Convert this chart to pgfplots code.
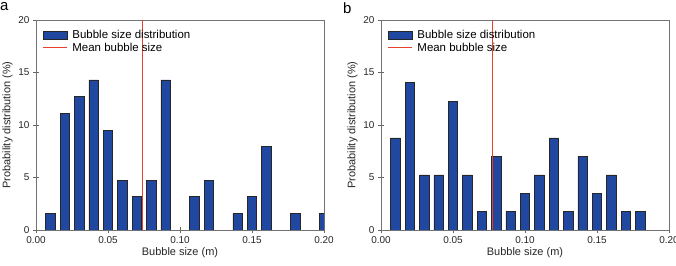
\documentclass[border=0pt]{standalone}
\usepackage{fontspec}
\setmainfont{Liberation Sans}
\usepackage{pgfplots}
\pgfplotsset{compat=1.18}
\definecolor{barblue}{HTML}{2148A0}
\definecolor{meanred}{HTML}{E8402A}
\begin{document}
\begin{tikzpicture}
\path[use as bounding box] (0bp,0bp) rectangle (676bp,266bp);
\pgfplotsset{
  myax/.style={
    scale only axis, width=288bp, height=210bp,
    xmin=0, xmax=0.2, ymin=0, ymax=20,
    xtick={0,0.05,0.1,0.15,0.2},
    xticklabels={0.00,0.05,0.10,0.15,0.20},
    ytick={0,5,10,15,20},
    tick align=center, tick style={black!60, line width=0.5pt}, major tick length=6bp,
    xtick pos=bottom, ytick pos=left,
    axis line style={black!55, line width=0.7pt},
    ticklabel style={font=\fontsize{10}{11}\selectfont, text=black!85},
    label style={font=\fontsize{11}{12}\selectfont, text=black!85},
    xlabel={Bubble size (m)}, ylabel={Probability distribution (\%)},
    xlabel style={yshift=3bp}, ylabel style={yshift=-1bp},
    /pgf/number format/assume math mode=true,
    legend style={draw=none, fill=none, at={(0.02,0.965)}, anchor=north west,
      font=\fontsize{11.5}{12}\selectfont, row sep=0bp, column sep=3bp, inner sep=1bp,
      nodes={inner sep=1.5bp}},
    legend cell align=left,
  },
  barst/.style={ybar, bar width=0.0065, fill=barblue, draw=black!85, line width=0.5pt, bar shift=0pt,
    legend image code/.code={\draw[##1, bar width=0pt] (0bp,-4bp) rectangle (24bp,4bp);}},
  meanst/.style={draw=meanred, color=meanred, line width=1pt, mark=none,
    legend image code/.code={\draw[##1] (0bp,0bp) -- (24bp,0bp);}},
}
\begin{axis}[myax, at={(36bp,36bp)}, anchor=south west]
\addplot[barst] coordinates {
(0.01,1.59) (0.02,11.11) (0.03,12.70) (0.04,14.29) (0.05,9.52) (0.06,4.76)
(0.07,3.17) (0.08,4.76) (0.09,14.29) (0.11,3.17) (0.12,4.76)
(0.14,1.59) (0.15,3.17) (0.16,7.94) (0.18,1.59) (0.20,1.59)};
\addlegendentry{Bubble size distribution}
\addplot[meanst] coordinates {(0.0737,0) (0.0737,20)};
\addlegendentry{Mean bubble size}
\end{axis}
\begin{axis}[myax, at={(381bp,36bp)}, anchor=south west]
\addplot[barst] coordinates {
(0.01,8.77) (0.02,14.04) (0.03,5.26) (0.04,5.26) (0.05,12.28) (0.06,5.26)
(0.07,1.75) (0.08,7.02) (0.09,1.75) (0.10,3.51) (0.11,5.26) (0.12,8.77)
(0.13,1.75) (0.14,7.02) (0.15,3.51) (0.16,5.26) (0.17,1.75) (0.18,1.75)};
\addlegendentry{Bubble size distribution}
\addplot[meanst] coordinates {(0.0775,0) (0.0775,20)};
\addlegendentry{Mean bubble size}
\end{axis}
\node[anchor=north west, inner sep=0pt, font=\fontsize{15}{15}\selectfont] at (0bp,264bp) {a};
\node[anchor=north west, inner sep=0pt, font=\fontsize{15}{15}\selectfont] at (343bp,264bp) {b};
\end{tikzpicture}
\end{document}
